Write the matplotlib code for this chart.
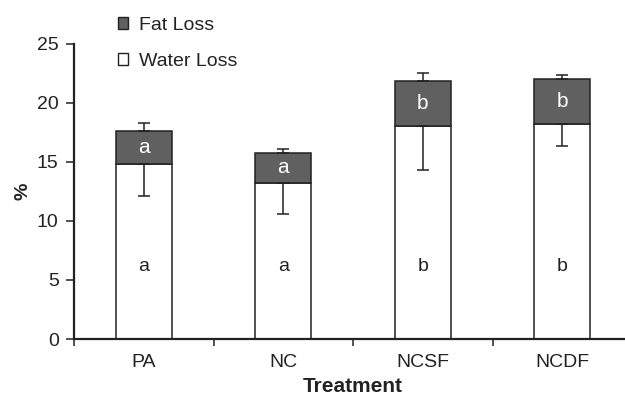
import matplotlib
matplotlib.use('Agg')
import matplotlib.pyplot as plt
from matplotlib.patches import Patch
import numpy as np

plt.rcParams['font.family'] = ['Liberation Sans', 'DejaVu Sans']
plt.rcParams['font.size'] = 13

# data
treatments = ['PA', 'NC', 'NCSF', 'NCDF']
water_loss = [14.8, 13.2, 18.05, 18.2]
water_sd = [2.7, 2.65, 3.75, 1.87]
fat_loss = [2.8, 2.55, 3.78, 3.8]
fat_sd = [0.65, 0.3, 0.65, 0.33]
water_letters = ['a', 'a', 'b', 'b']
fat_letters = ['a', 'a', 'b', 'b']

fig = plt.figure(figsize=(6.25, 3.97), dpi=100)
ax = fig.add_axes([74 / 625, 58 / 397, 558 / 625, 295.5 / 397])

x = np.arange(len(treatments))
total = np.array(water_loss) + np.array(fat_loss)

ax.bar(x, water_loss, width=0.4, color='white', edgecolor='#222222', linewidth=1.1, zorder=2)
ax.bar(x, fat_loss, width=0.4, bottom=water_loss, color='#606060', edgecolor='#222222',
       linewidth=1.1, zorder=2)

# water error goes down from the water top, fat error goes up from the total
ax.errorbar(x, water_loss, yerr=[water_sd, np.zeros(len(x))], fmt='none', ecolor='#222222',
            elinewidth=1.1, capsize=4, capthick=1.1, zorder=3)
ax.errorbar(x, total, yerr=[np.zeros(len(x)), fat_sd], fmt='none', ecolor='#222222',
            elinewidth=1.1, capsize=4, capthick=1.1, zorder=3)

for i in range(len(x)):
    ax.text(x[i], 6.1, water_letters[i], ha='center', va='center', fontsize=14, color='#222222')
    ax.text(x[i], water_loss[i] + fat_loss[i] / 2, fat_letters[i], ha='center', va='center',
            fontsize=15, color='white')

ax.set_xlim(-0.5, 3.5)
ax.set_ylim(0, 25)
ax.set_yticks([0, 5, 10, 15, 20, 25])
ax.set_xticks(x)
ax.set_xticklabels(treatments, fontsize=14)
ax.set_xticks(np.arange(-0.5, 4.0, 1.0), minor=True)
ax.tick_params(axis='x', which='major', length=0, pad=11)
ax.tick_params(axis='x', which='minor', length=5, width=1.1, direction='out', color='#222222')
ax.tick_params(axis='y', length=6, width=1.1, direction='out', pad=5, color='#222222', labelsize=14)
ax.tick_params(labelcolor='#222222')

for s in ['top', 'right']:
    ax.spines[s].set_visible(False)
for s in ['left', 'bottom']:
    ax.spines[s].set_linewidth(1.6)
    ax.spines[s].set_color('#222222')

ax.set_xlabel('Treatment', fontweight='bold', fontsize=15, labelpad=4, color='#222222')
ax.set_ylabel('%', fontweight='bold', fontsize=14, labelpad=4, color='#222222')

handles = [Patch(facecolor='#606060', edgecolor='#222222', linewidth=1.0),
           Patch(facecolor='white', edgecolor='#222222', linewidth=1.0)]
fig.legend(handles, ['Fat Loss', 'Water Loss'], loc='upper left', bbox_to_anchor=(108 / 625, 1 - 7 / 397),
           frameon=False, borderpad=0, handlelength=0.55, handleheight=0.55, handletextpad=0.55,
           labelspacing=1.0, fontsize=14, labelcolor='#222222')

fig.savefig('out.png', dpi=100)
